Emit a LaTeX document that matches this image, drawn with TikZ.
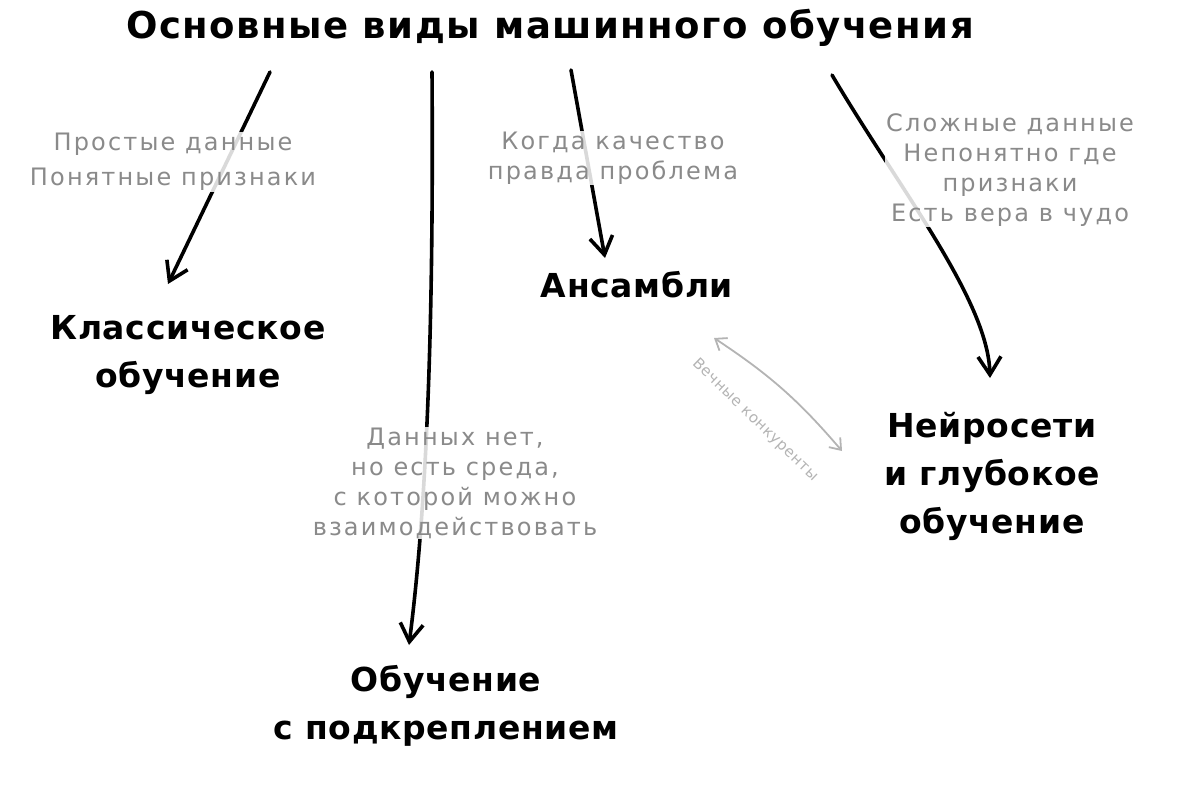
\documentclass[tikz,border=0pt]{standalone}
\usepackage{fontspec}
\setmainfont{DejaVu Sans}
\usetikzlibrary{arrows.meta}
\definecolor{lbl}{HTML}{8A8A8A}
\definecolor{dbl}{HTML}{B4B4B4}
\tikzset{
  ttl/.style={font=\fontsize{37}{40}\selectfont\bfseries\addfontfeatures{LetterSpace=4}, text=black},
  mainbox/.style={font=\fontsize{33}{48}\selectfont\bfseries\addfontfeatures{LetterSpace=2}, align=center, text=black},
  note/.style={font=\fontsize{24}{30}\selectfont\addfontfeatures{LetterSpace=9}, align=center, text=lbl, fill=white, fill opacity=0.85, text opacity=1, inner sep=1pt},
  conn/.style={line width=3.6pt, line cap=round, black, -{Straight Barb[length=18pt,width=23pt,line width=3.6pt]}},
  rivals/.style={line width=1.8pt, line cap=round, dbl, {Straight Barb[length=10pt,width=15pt]}-{Straight Barb[length=10pt,width=15pt]}},
  smallnote/.style={font=\fontsize{15}{17}\selectfont\addfontfeatures{LetterSpace=4}, text=dbl}
}
\begin{document}
\begin{tikzpicture}[x=1pt,y=-1pt]
\useasboundingbox (0,0) rectangle (1180,785);
\node[ttl] (title) at (550,28) {Основные виды машинного обучения};
\node[mainbox] (classic) at (188,355) {Классическое\\обучение};
\node[mainbox] (rl) at (446,706) {Обучение\\с подкреплением};
\node[mainbox] (ens) at (637,285) {Ансамбли};
\node[mainbox] (nn) at (992,476) {Нейросети\\и глубокое\\обучение};

\coordinate (s1) at (270,72);
\coordinate (e1) at (168,284);
\coordinate (s2) at (432,72);
\coordinate (e2) at (409,645);
\coordinate (s3) at (571,70);
\coordinate (e3) at (605,258);
\coordinate (s4) at (832,75);
\coordinate (e4) at (990,378);
\coordinate (r1) at (714,338);
\coordinate (r2) at (842,451);

\draw[conn] (s1) -- (e1);
\draw[conn] (s2) .. controls (434,350) and (425,520) .. (e2);
\draw[conn] (s3) -- (e3);
\draw[conn] (s4) .. controls (900,190) and (988,300) .. (e4);
\draw[rivals] (r1) to[bend left=8] (r2);

\node[note, font=\fontsize{24}{35}\selectfont\addfontfeatures{LetterSpace=9}] (n1) at (173,162) {Простые данные\\Понятные признаки};
\node[note] (n2) at (455,483) {Данных нет,\\но есть среда,\\с которой можно\\взаимодействовать};
\node[note] (n3) at (613,158) {Когда качество\\правда проблема};
\node[note] (n4) at (1010,170) {Сложные данные\\Непонятно где\\признаки\\Есть вера в чудо};
\node[smallnote, rotate=-44] (n5) at (755,420) {Вечные конкуренты};
\end{tikzpicture}
\end{document}
